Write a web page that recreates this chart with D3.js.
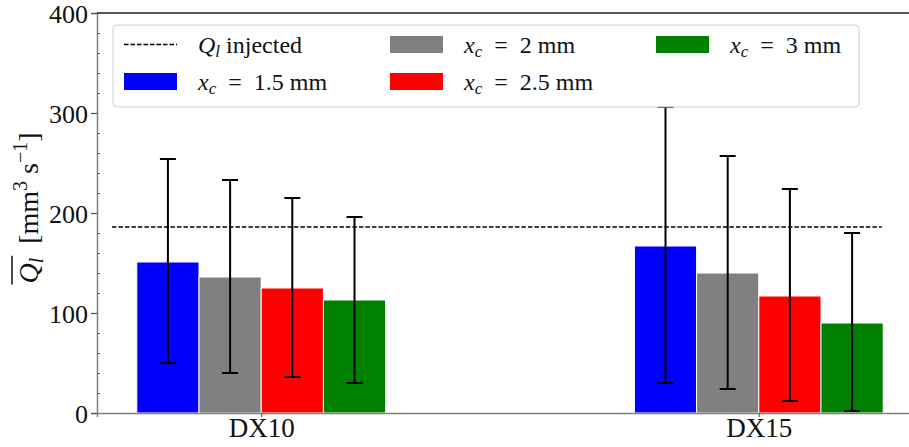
<!DOCTYPE html>
<html>
<head>
<meta charset="utf-8">
<script src="https://cdn.jsdelivr.net/npm/d3@7"></script>
<style>
  body { margin: 0; background: #fff; }
  svg text { font-family: 'Liberation Serif', 'DejaVu Serif', serif; }
</style>
</head>
<body>
<div id="chart"></div>
<script>
// cases on the x axis
const cases = ['DX10', 'DX15']
// x_c values of the series (mm)
const xcLabels = ['1.5', '2', '2.5', '3']
const colors = ['#0000ff', '#808080', '#ff0000', '#008000']

// mean leakage per series, one value per case
const mean15 = [151, 167]
const mean2 = [136, 140]
const mean25 = [125, 117]
const mean3 = [113, 90]

// error bar ends (upper / lower)
const upper15 = [254, 306]
const upper2 = [233, 257]
const upper25 = [215, 224]
const upper3 = [196, 180]
const lower15 = [50, 30]
const lower2 = [40, 24]
const lower25 = [36, 12]
const lower3 = [30, 2]

const injected = 186
const yTicks = [0, 100, 200, 300, 400]

const series = xcLabels.map((label, i) => ({
  label,
  color: colors[i],
  values: cases.map((c, j) => ({
    index: j,
    mean: [mean15, mean2, mean25, mean3][i][j],
    hi: [upper15, upper2, upper25, upper3][i][j],
    lo: [lower15, lower2, lower25, lower3][i][j]
  }))
}))

const W = 909, H = 447
const margin = { top: 13, left: 97, bottom: 34 }
const barWidth = 0.125
const serif = "'Liberation Serif', 'DejaVu Serif', serif"

const svg = d3.select('#chart').append('svg')
  .attr('width', W)
  .attr('height', H)

const xScale = d3.scaleLinear()
  .domain([-0.33, 1.33])
  .range([margin.left, 923])

const yScale = d3.scaleLinear()
  .domain([0, 400])
  .range([H - margin.bottom, margin.top])

// bars
series.forEach((s, i) => {
  const offset = (i - 1.5) * barWidth
  svg.append('g')
    .selectAll('rect')
    .data(s.values)
    .enter()
    .append('rect')
    .attr('x', d => xScale(d.index + offset - barWidth / 2))
    .attr('width', xScale(barWidth) - xScale(0))
    .attr('y', d => yScale(d.mean))
    .attr('height', d => yScale(0) - yScale(d.mean))
    .attr('fill', s.color)
    .attr('stroke', '#fff')
    .attr('stroke-width', 1)
})

// error bars
series.forEach((s, i) => {
  const offset = (i - 1.5) * barWidth
  const g = svg.append('g').attr('stroke', '#000').attr('stroke-width', 2)
  s.values.forEach(d => {
    const cx = xScale(d.index + offset)
    g.append('line')
      .attr('x1', cx).attr('x2', cx)
      .attr('y1', yScale(d.hi)).attr('y2', yScale(d.lo))
    ;[d.hi, d.lo].forEach(v => {
      g.append('line')
        .attr('x1', cx - 8).attr('x2', cx + 8)
        .attr('y1', yScale(v)).attr('y2', yScale(v))
    })
  })
})

// injected flow rate
svg.append('line')
  .attr('x1', xScale(-0.3))
  .attr('x2', xScale(1.247))
  .attr('y1', yScale(injected))
  .attr('y2', yScale(injected))
  .attr('stroke', '#000')
  .attr('stroke-width', 1.3)
  .attr('stroke-dasharray', '4.5,2')

// y axis
const yAxis = svg.append('g')
  .attr('transform', 'translate(' + margin.left + ',0)')
  .call(d3.axisLeft(yScale).tickValues(yTicks).tickSize(6).tickPadding(3))
yAxis.select('.domain').attr('stroke', '#808080').attr('stroke-width', 1.5)
yAxis.selectAll('.tick line').attr('stroke', '#555').attr('stroke-width', 1.2)
yAxis.selectAll('.tick text')
  .attr('font-size', 26)
  .attr('fill', '#111')
  .attr('font-family', serif)
  .attr('dy', '0.35em')

svg.append('g')
  .attr('transform', 'translate(' + margin.left + ',0)')
  .call(d3.axisRight(yScale).tickValues(d3.range(20, 400, 20).filter(v => v % 100)).tickSize(3).tickFormat(''))
  .call(g => g.select('.domain').remove())
  .selectAll('.tick line').attr('stroke', '#555')

// x axis
const xAxis = svg.append('g')
  .attr('transform', 'translate(0,' + yScale(0) + ')')
  .call(d3.axisBottom(xScale).tickValues([0, 1]).tickFormat(i => cases[i]).tickSize(4).tickPadding(1))
xAxis.select('.domain').attr('stroke', '#808080').attr('stroke-width', 1.5)
xAxis.selectAll('.tick line').attr('stroke', '#555')
xAxis.selectAll('.tick text')
  .attr('font-size', 27)
  .attr('fill', '#111')
  .attr('font-family', serif)

// top spine
svg.append('line')
  .attr('x1', margin.left).attr('x2', W)
  .attr('y1', margin.top).attr('y2', margin.top)
  .attr('stroke', '#222')
  .attr('stroke-width', 1.3)

// y label
const labelPos = 'translate(38,208) rotate(-90)'
const ylab = svg.append('text')
  .attr('transform', labelPos)
  .attr('text-anchor', 'middle')
  .attr('font-size', 28)
  .attr('font-family', serif)
  .attr('fill', '#111')
ylab.append('tspan').attr('font-style', 'italic').text('Q')
ylab.append('tspan').attr('font-style', 'italic').attr('font-size', 20).attr('dy', 5).text('l')
ylab.append('tspan').attr('dy', -5).text('\u2002[mm')
ylab.append('tspan').attr('font-size', 20).attr('dy', -11).text('3')
ylab.append('tspan').attr('dy', 11).text(' s')
ylab.append('tspan').attr('font-size', 20).attr('dy', -11).text('\u22121')
ylab.append('tspan').attr('dy', 11).text(']')
const ylNode = ylab.node()
const overLen = ylNode.getSubStringLength(0, 2)
const start = ylNode.getStartPositionOfChar(0)
svg.append('line')
  .attr('transform', labelPos)
  .attr('x1', start.x - 1).attr('x2', start.x + overLen + 2)
  .attr('y1', -26).attr('y2', -26)
  .attr('stroke', '#111')
  .attr('stroke-width', 1.5)

// legend
const legend = svg.append('g')
legend.append('rect')
  .attr('x', 113).attr('y', 25)
  .attr('width', 746).attr('height', 82)
  .attr('rx', 4)
  .attr('fill', '#fff')
  .attr('fill-opacity', 0.85)
  .attr('stroke', '#d0d0d0')
  .attr('stroke-width', 1)

const legendItems = [
  { type: 'line', col: 0, row: 0 },
  { type: 'bar', series: 0, col: 0, row: 1 },
  { type: 'bar', series: 1, col: 1, row: 0 },
  { type: 'bar', series: 2, col: 1, row: 1 },
  { type: 'bar', series: 3, col: 2, row: 0 }
]
const colX = [124, 390, 656]
const rowY = [44.5, 81.5]

legendItems.forEach(item => {
  const x = colX[item.col], y = rowY[item.row]
  const t = legend.append('text')
    .attr('x', x + 74).attr('y', y + 8)
    .attr('font-size', 24)
    .attr('font-family', serif)
    .attr('fill', '#111')
  if (item.type === 'line') {
    legend.append('line')
      .attr('x1', x).attr('x2', x + 53)
      .attr('y1', y).attr('y2', y)
      .attr('stroke', '#000')
      .attr('stroke-width', 1.3)
      .attr('stroke-dasharray', '4.5,2')
    t.append('tspan').attr('font-style', 'italic').text('Q')
    t.append('tspan').attr('font-style', 'italic').attr('font-size', 17).attr('dy', 4).text('l')
    t.append('tspan').attr('dy', -4).text(' injected')
  } else {
    const s = series[item.series]
    legend.append('rect')
      .attr('x', x).attr('y', y - 8.5)
      .attr('width', 53).attr('height', 17)
      .attr('fill', s.color)
    t.append('tspan').attr('font-style', 'italic').text('x')
    t.append('tspan').attr('font-style', 'italic').attr('font-size', 17).attr('dy', 4).text('c')
    t.append('tspan').attr('dy', -4).text('\u2002=\u2002' + s.label + ' mm')
  }
})
</script>
</body>
</html>
